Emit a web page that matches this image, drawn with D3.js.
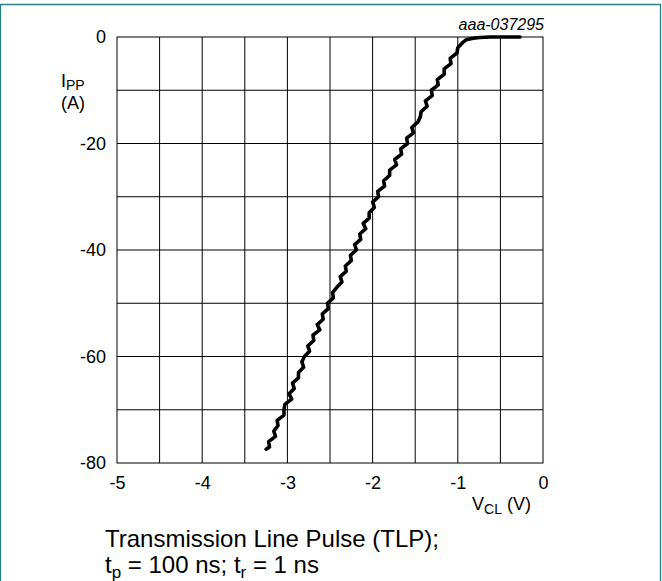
<!DOCTYPE html>
<html>
<head>
<meta charset="utf-8">
<script src="https://cdn.jsdelivr.net/npm/d3@7"></script>
<style>
body { margin: 0; background: #fff; }
text { font-family: "Liberation Sans", Arial, sans-serif; fill: #000; }
</style>
</head>
<body>
<script>
// TLP curve: [I_PP (A), V_CL (V)]
var ipp = [-77.4, -77, -76, -75, -74, -73, -72, -71, -70, -69, -68, -67, -66, -65, -64, -63, -62, -61, -60,
	-59, -58, -57, -56, -55, -54, -53, -52, -51, -50, -49, -48, -47, -46, -45, -44, -43, -42, -41, -40,
	-39, -38, -37, -36, -35, -34, -33, -32, -31, -30, -29, -28, -27, -26, -25, -24, -23, -22, -21, -20,
	-19, -18, -17, -16, -15, -14, -13, -12, -11, -10, -9, -8, -7, -6, -5, -4, -3, -2, -1,
	-0.5, -0.25, -0.1, 0, 0];
var vcl = [-3.25, -3.21, -3.22, -3.14, -3.16, -3.11, -3.12, -3.04, -3.04, -3.03, -2.95, -2.98, -2.92, -2.94, -2.87, -2.87, -2.81, -2.83, -2.80,
	-2.74, -2.76, -2.69, -2.70, -2.62, -2.65, -2.58, -2.59, -2.52, -2.53, -2.46, -2.47, -2.42, -2.36, -2.38, -2.31, -2.32, -2.25, -2.26, -2.19,
	-2.21, -2.14, -2.15, -2.08, -2.11, -2.04, -2.04, -1.98, -2.00, -1.93, -1.94, -1.86, -1.87, -1.80, -1.80, -1.72, -1.74, -1.66, -1.67, -1.59,
	-1.60, -1.52, -1.54, -1.47, -1.44, -1.43, -1.36, -1.38, -1.30, -1.31, -1.23, -1.24, -1.16, -1.16, -1.08, -1.09, -1.01, -1.00, -0.94,
	-0.90, -0.82, -0.74, -0.62, -0.27];

var xTicks = [-5, -4, -3, -2, -1, 0];
var yTicks = [0, -20, -40, -60, -80];
var xGrid = [-4.5, -4, -3.5, -3, -2.5, -2, -1.5, -1, -0.5];
var yGrid = [-10, -20, -30, -40, -50, -60, -70];

var data = ipp.map(function(d, i) {
	return { i : d, v : vcl[i] };
});

var margin = { top : 37, left : 117 },
	width = 426, height = 426;

var svg = d3.select("body").append("svg")
	.attr("width", 662).attr("height", 581);

// frame around the figure
svg.append("path").attr("d", "M0.5,581 V4.5 H660.5 V581")
	.style("fill", "none").style("stroke", "#2a8088").style("stroke-width", 1.3);

var x = d3.scaleLinear().domain([ -5, 0 ]).range([ 0, width ]);
var y = d3.scaleLinear().domain([ -80, 0 ]).range([ height, 0 ]);

var g = svg.append("g")
	.attr("transform", "translate(" + margin.left + "," + margin.top + ")");

// grid
g.selectAll(".vgrid").data(xGrid).enter().append("line").attr("class", "vgrid")
	.attr("x1", x).attr("x2", x).attr("y1", 0).attr("y2", height)
	.style("stroke", "#000").style("stroke-width", 1);
g.selectAll(".hgrid").data(yGrid).enter().append("line").attr("class", "hgrid")
	.attr("y1", y).attr("y2", y).attr("x1", 0).attr("x2", width)
	.style("stroke", "#000").style("stroke-width", 1);

g.append("rect").attr("width", width).attr("height", height)
	.style("fill", "none").style("stroke", "#000").style("stroke-width", 1);

// axes, labels only (plain hyphen for the minus sign, as in the original)
var xAxis = g.append("g").attr("transform", "translate(0," + height + ")")
	.call(d3.axisBottom(x).tickValues(xTicks).tickSize(0).tickPadding(13)
		.tickFormat(function(d) { return String(d); }));
var yAxis = g.append("g")
	.call(d3.axisLeft(y).tickValues(yTicks).tickSize(0).tickPadding(11)
		.tickFormat(function(d) { return String(d); }));
[xAxis, yAxis].forEach(function(a) {
	a.select(".domain").remove();
	a.selectAll("text").style("font-size", "18px")
		.style("font-family", "'Liberation Sans', Arial, sans-serif").style("fill", "#000");
});

// curve
var line = d3.line().x(function(d) { return x(d.v); }).y(function(d) { return y(d.i); });
g.append("path").datum(data).attr("d", line)
	.style("fill", "none").style("stroke", "#000").style("stroke-width", 3.6)
	.style("stroke-linejoin", "round").style("stroke-linecap", "round");

// axis titles
var yt = svg.append("text").attr("x", 61).attr("y", 87).style("font-size", "18px");
yt.append("tspan").text("I");
yt.append("tspan").attr("dy", 3).style("font-size", "14px").text("PP");
svg.append("text").attr("x", 61).attr("y", 109).style("font-size", "18px").text("(A)");

var xt = svg.append("text").attr("x", 472).attr("y", 510).style("font-size", "18px");
xt.append("tspan").text("V");
xt.append("tspan").attr("dy", 4).style("font-size", "14px").text("CL");
xt.append("tspan").attr("dy", -4).text(" (V)");

svg.append("text").attr("x", 544).attr("y", 30).style("text-anchor", "end")
	.style("font-size", "16px").style("font-style", "italic").text("aaa-037295");

// caption
svg.append("text").attr("x", 105).attr("y", 547).style("font-size", "24px")
	.text("Transmission Line Pulse (TLP);");
var c2 = svg.append("text").attr("x", 105).attr("y", 573).style("font-size", "24px");
c2.append("tspan").text("t");
c2.append("tspan").attr("dy", 5).style("font-size", "17px").text("p");
c2.append("tspan").attr("dy", -5).text(" = 100 ns; t");
c2.append("tspan").attr("dy", 5).style("font-size", "17px").text("r");
c2.append("tspan").attr("dy", -5).text(" = 1 ns");
</script>
</body>
</html>
